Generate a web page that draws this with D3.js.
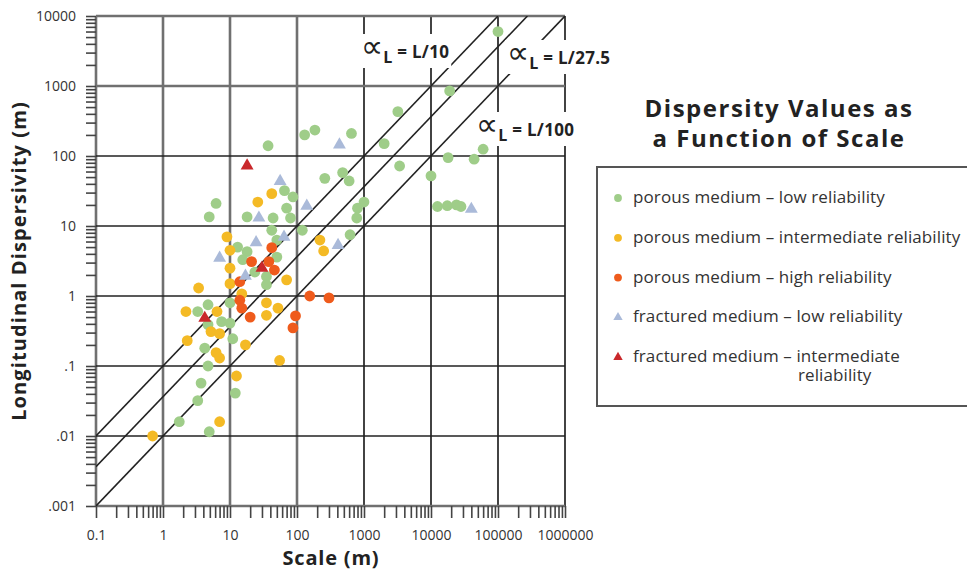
<!DOCTYPE html>
<html lang="en">
<head>
<meta charset="utf-8">
<script src="https://cdn.jsdelivr.net/npm/d3@7"></script>
<style type="text/css">
body {
  margin: 0;
  background-color: #ffffff;
  font-family: "Open Sans", "Noto Sans", sans-serif;
}
.axis text {
  font: 14px "Open Sans", sans-serif;
  fill: #333;
}
.axis line {
  stroke: #444;
  stroke-width: 1.6;
}
.axis path { display: none; }
</style>
</head>
<body>
<script type="text/javascript">

var width = 967;
var height = 571;

// axis ticks
var xTicks = [0.1, 1, 10, 100, 1000, 10000, 100000, 1000000];
var xTickLabels = ["0.1", "1", "10", "100", "1000", "10000", "100000", "1000000"];
var yTicks = [0.001, 0.01, 0.1, 1, 10, 100, 1000, 10000];
var yTickLabels = [".001", ".01", ".1", "1", "10", "100", "1000", "10000"];

// reference lines alpha = L / ratio
var lineRatios = [10, 27.5, 100];
var lineLabels = ["L/10", "L/27.5", "L/100"];

// [scale (m), longitudinal dispersivity (m)]
var porousLow = [
  [100000, 6000], [19000, 850], [3200, 430], [2000, 150], [650, 210], [185, 235],
  [130, 200], [37, 140], [260, 48], [3400, 72], [18000, 95], [44000, 90],
  [60000, 125], [10000, 52], [480, 58], [600, 44], [1000, 22], [800, 18],
  [780, 13], [620, 7.5], [12500, 19], [17500, 19.5], [24000, 20], [28000, 19],
  [120, 8.7], [4.9, 13.5], [6.2, 21], [18, 13.5], [44, 13], [65, 32], [87, 26],
  [70, 18], [80, 13], [42, 8.7], [50, 6.3], [13, 5], [18, 4.3], [15.5, 3.3],
  [23.5, 2.2], [35, 1.9], [35, 1.45], [50, 3.6], [3.3, 0.6], [4.7, 0.75],
  [4.7, 0.39], [7.5, 0.43], [10, 0.41], [11, 0.245], [4.2, 0.18], [4.7, 0.1],
  [10, 0.8], [3.7, 0.057], [3.3, 0.032], [1.75, 0.016], [4.9, 0.0115], [12, 0.041]
];
var porousInter = [
  [42, 29], [26, 22], [9, 7], [10, 4.5], [10, 2.5], [3.4, 1.3], [10, 1.5],
  [70, 1.7], [220, 6.3], [250, 4.4], [35, 0.8], [52, 0.67], [35, 0.53],
  [15, 1.07], [2.2, 0.6], [6.4, 0.6], [5.2, 0.31], [7, 0.29], [2.3, 0.23],
  [6.2, 0.155], [7, 0.13], [17, 0.2], [12.5, 0.072], [7, 0.016], [0.7, 0.01],
  [55, 0.12]
];
var porousHigh = [
  [42, 4.9], [21, 3.1], [38, 3.1], [46, 2.35], [14, 1.6], [14, 0.87],
  [15, 0.67], [20, 0.5], [155, 1.0], [300, 0.94], [95, 0.52], [87, 0.35]
];
var fracturedLow = [
  [56, 45], [27, 13.5], [140, 20], [430, 150], [24.5, 6], [64, 7.2],
  [7, 3.6], [17, 2], [410, 5.5], [40000, 18]
];
var fracturedInter = [[18, 75], [30, 2.6], [4.2, 0.5]];

var seriesNames = [
  ["porous medium \u2013 low reliability"],
  ["porous medium \u2013 intermediate reliability"],
  ["porous medium \u2013 high reliability"],
  ["fractured medium \u2013 low reliability"],
  ["fractured medium \u2013 intermediate", "reliability"]
];

var series = [
  {data: porousLow, color: "#9fcd89", shape: "circle"},
  {data: porousInter, color: "#f4ba25", shape: "circle"},
  {data: porousHigh, color: "#ef5b1c", shape: "circle"},
  {data: fracturedLow, color: "#aabad9", shape: "triangle"},
  {data: fracturedInter, color: "#c9282b", shape: "triangle"}
];

var x = d3.scaleLog().domain([0.1, 1000000]).range([96, 565]);
var y = d3.scaleLog().domain([0.001, 10000]).range([506, 16]);

var svg = d3.select("body")
  .append("svg")
  .attr("width", width)
  .attr("height", height);

// grid
var grid = svg.append("g");
grid.selectAll(".vgrid")
  .data(xTicks)
  .enter().append("line")
  .attr("x1", d => x(d)).attr("x2", d => x(d))
  .attr("y1", y(10000)).attr("y2", y(0.001))
  .style("stroke", d => d <= 100 ? "#707070" : "#222")
  .style("stroke-width", d => d <= 100 ? 2.6 : 1.7);
grid.selectAll(".hgrid")
  .data(yTicks)
  .enter().append("line")
  .attr("y1", d => y(d)).attr("y2", d => y(d))
  .attr("x1", x(0.1)).attr("x2", x(1000000))
  .style("stroke", d => (d >= 1000 || d == 0.001) ? "#707070" : "#222")
  .style("stroke-width", d => (d >= 1000 || d == 0.001) ? 2.6 : 1.7);

// axes
var xAxis = d3.axisBottom(x)
  .tickValues(x.ticks())
  .tickSize(12)
  .tickPadding(12)
  .tickFormat(function(d) {
    var i = xTicks.indexOf(d);
    return i >= 0 ? xTickLabels[i] : "";
  });
svg.append("g")
  .attr("class", "axis")
  .attr("transform", "translate(0," + y(0.001) + ")")
  .call(xAxis);

var yAxis = d3.axisLeft(y)
  .tickValues(y.ticks())
  .tickSize(10)
  .tickPadding(10)
  .tickFormat(function(d) {
    var i = yTicks.findIndex(t => Math.abs(t - d) / t < 1e-6);
    return i >= 0 ? yTickLabels[i] : "";
  });
svg.append("g")
  .attr("class", "axis")
  .attr("transform", "translate(" + x(0.1) + ",0)")
  .call(yAxis);

// reference lines
svg.append("clipPath").attr("id", "plotclip")
  .append("rect")
  .attr("x", x(0.1)).attr("y", y(10000))
  .attr("width", x(1000000) - x(0.1)).attr("height", y(0.001) - y(10000));

svg.append("g")
  .attr("clip-path", "url(#plotclip)")
  .selectAll(".refline")
  .data(lineRatios)
  .enter().append("line")
  .attr("x1", x(0.1))
  .attr("y1", d => y(0.1 / d))
  .attr("x2", d => x(10000 * d))
  .attr("y2", y(10000))
  .style("stroke", "#222")
  .style("stroke-width", 1.6);

// line labels with white backing
var labelPos = [[361, 58], [507, 64], [476, 136]];
lineLabels.forEach(function(lab, i) {
  var g = svg.append("g");
  var t = g.append("text")
    .attr("x", labelPos[i][0])
    .attr("y", labelPos[i][1])
    .style("font-family", "'Open Sans', sans-serif")
    .style("font-weight", "bold")
    .style("font-size", "17px")
    .style("letter-spacing", "0.3px")
    .style("fill", "#222");
  t.append("tspan").text("\u221D")
    .style("font-family", "'DejaVu Sans', sans-serif")
    .style("font-weight", "normal")
    .style("font-size", "31px")
    .style("letter-spacing", "0px")
    .attr("dy", -1);
  t.append("tspan").text("L").attr("dy", 6).style("font-size", "16px");
  t.append("tspan").text(" = " + lab).attr("dy", -5);
  var b = t.node().getBBox();
  g.insert("rect", "text")
    .attr("x", b.x - 2).attr("y", b.y + 6)
    .attr("width", b.width + 4).attr("height", b.height - 6)
    .style("fill", "#fff");
});

// points
var tri = d3.symbol().type(d3.symbolTriangle).size(72);
series.forEach(function(s) {
  if (s.shape === "circle") {
    svg.append("g").selectAll("circle")
      .data(s.data)
      .enter().append("circle")
      .attr("cx", d => x(d[0]))
      .attr("cy", d => y(d[1]))
      .attr("r", 5.4)
      .style("fill", s.color);
  } else {
    svg.append("g").selectAll("path")
      .data(s.data)
      .enter().append("path")
      .attr("d", tri)
      .attr("transform", d => "translate(" + x(d[0]) + "," + (y(d[1]) + 1) + ")")
      .style("fill", s.color);
  }
});

// axis titles
svg.append("text")
  .attr("transform", "translate(26," + ((y(10000) + y(0.001)) / 2) + ") rotate(-90)")
  .style("text-anchor", "middle")
  .style("font-weight", "bold")
  .style("font-size", "20px")
  .style("letter-spacing", "1.1px")
  .style("fill", "#222")
  .text("Longitudinal Dispersivity (m)");

svg.append("text")
  .attr("x", 331)
  .attr("y", 565)
  .style("text-anchor", "middle")
  .style("font-weight", "bold")
  .style("font-size", "20px")
  .style("letter-spacing", "0.8px")
  .style("fill", "#222")
  .text("Scale (m)");

// legend
var legend = svg.append("g");
legend.append("text")
  .attr("x", 779).attr("y", 117)
  .style("text-anchor", "middle")
  .style("font-weight", "bold")
  .style("font-size", "24px")
  .style("letter-spacing", "1.5px")
  .style("fill", "#222")
  .text("Dispersity Values as");
legend.append("text")
  .attr("x", 779).attr("y", 147)
  .style("text-anchor", "middle")
  .style("font-weight", "bold")
  .style("font-size", "24px")
  .style("letter-spacing", "1.5px")
  .style("fill", "#222")
  .text("a Function of Scale");

legend.append("rect")
  .attr("x", 597).attr("y", 167)
  .attr("width", 400).attr("height", 239)
  .style("fill", "none")
  .style("stroke", "#555")
  .style("stroke-width", 2);

var smallTri = d3.symbol().type(d3.symbolTriangle).size(38);
series.forEach(function(s, i) {
  var cy = 198 + i * 39.8;
  if (s.shape === "circle") {
    legend.append("circle")
      .attr("cx", 618).attr("cy", cy).attr("r", 3.9)
      .style("fill", s.color);
  } else {
    legend.append("path")
      .attr("d", smallTri)
      .attr("transform", "translate(618," + cy + ")")
      .style("fill", s.color);
  }
  var t = legend.append("text")
    .attr("x", 633).attr("y", cy + 5)
    .style("font-size", "17px")
    .style("letter-spacing", "0.1px")
    .style("fill", "#333");
  t.append("tspan").text(seriesNames[i][0]);
  if (seriesNames[i].length > 1) {
    t.append("tspan").attr("x", 798).attr("dy", 19).text(seriesNames[i][1]);
  }
});

</script>
</body>
</html>
